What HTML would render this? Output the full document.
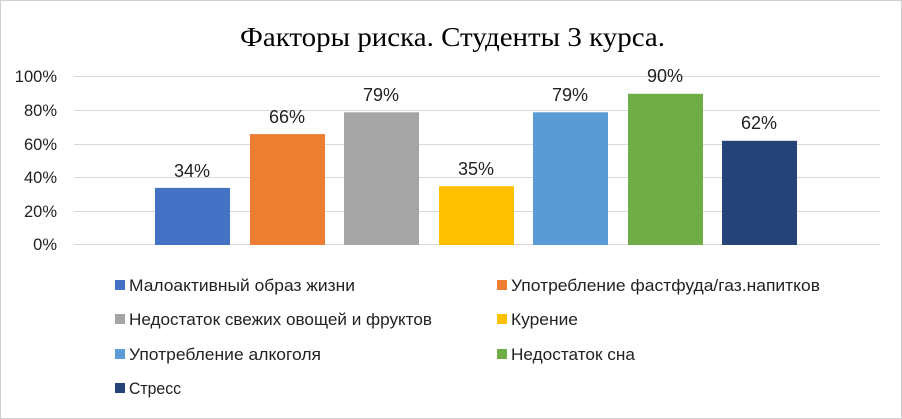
<!DOCTYPE html>
<html><head><meta charset="utf-8"><style>
body{margin:0;background:#fff}
</style></head><body>
<svg width="902" height="419" xmlns="http://www.w3.org/2000/svg" style="display:block">
<rect x="0.5" y="0.5" width="901" height="418" fill="#fff" stroke="#d0d0d0"/>
<text x="240" y="46" textLength="425" lengthAdjust="spacingAndGlyphs" font-family="Liberation Serif, serif" font-size="27" fill="#000">Факторы риска. Студенты 3 курса.</text>
<g stroke="#d9d9d9" stroke-width="1">
<line x1="74" x2="880" y1="76.5" y2="76.5"/><line x1="74" x2="880" y1="110.5" y2="110.5"/>
<line x1="74" x2="880" y1="144.5" y2="144.5"/><line x1="74" x2="880" y1="177.5" y2="177.5"/>
<line x1="74" x2="880" y1="211.5" y2="211.5"/><line x1="74" x2="880" y1="244.5" y2="244.5"/>
</g>
<g font-family="Liberation Sans, sans-serif" font-size="16.5" fill="#222" text-anchor="end">
<text x="57" y="82">100%</text><text x="57" y="116">80%</text><text x="57" y="150">60%</text>
<text x="57" y="183">40%</text><text x="57" y="217">20%</text><text x="57" y="250">0%</text>
</g>
<rect x="155" y="187.9" width="75" height="57.1" fill="#4472c4"/>
<rect x="250" y="134.1" width="75" height="110.9" fill="#ed7d31"/>
<rect x="344" y="112.3" width="75" height="132.7" fill="#a5a5a5"/>
<rect x="439" y="186.2" width="75" height="58.8" fill="#ffc000"/>
<rect x="533" y="112.3" width="75" height="132.7" fill="#5b9bd5"/>
<rect x="628" y="93.8" width="75" height="151.2" fill="#70ad47"/>
<rect x="722" y="140.8" width="75" height="104.2" fill="#264478"/>
<g font-family="Liberation Sans, sans-serif" font-size="18" fill="#222" text-anchor="middle">
<text x="192" y="177">34%</text><text x="287" y="123">66%</text><text x="381" y="101">79%</text>
<text x="476" y="175">35%</text><text x="570" y="101">79%</text><text x="665" y="82">90%</text>
<text x="759" y="129">62%</text>
</g>
<g font-family="Liberation Sans, sans-serif" font-size="16.5" fill="#222" lengthAdjust="spacingAndGlyphs">
<rect x="115" y="280" width="10" height="10" fill="#4472c4"/><text x="129" y="291" textLength="226" lengthAdjust="spacingAndGlyphs">Малоактивный образ жизни</text>
<rect x="497" y="280" width="10" height="10" fill="#ed7d31"/><text x="511" y="291" textLength="309" lengthAdjust="spacingAndGlyphs">Употребление фастфуда/газ.напитков</text>
<rect x="115" y="314" width="10" height="10" fill="#a5a5a5"/><text x="129" y="325" textLength="303" lengthAdjust="spacingAndGlyphs">Недостаток свежих овощей и фруктов</text>
<rect x="497" y="314" width="10" height="10" fill="#ffc000"/><text x="511" y="325" textLength="67" lengthAdjust="spacingAndGlyphs">Курение</text>
<rect x="115" y="349" width="10" height="10" fill="#5b9bd5"/><text x="129" y="360" textLength="192" lengthAdjust="spacingAndGlyphs">Употребление алкоголя</text>
<rect x="497" y="349" width="10" height="10" fill="#70ad47"/><text x="511" y="360" textLength="124" lengthAdjust="spacingAndGlyphs">Недостаток сна</text>
<rect x="115" y="383" width="10" height="10" fill="#264478"/><text x="129" y="394" textLength="52" lengthAdjust="spacingAndGlyphs">Стресс</text>
</g>
</svg>
</body></html>
